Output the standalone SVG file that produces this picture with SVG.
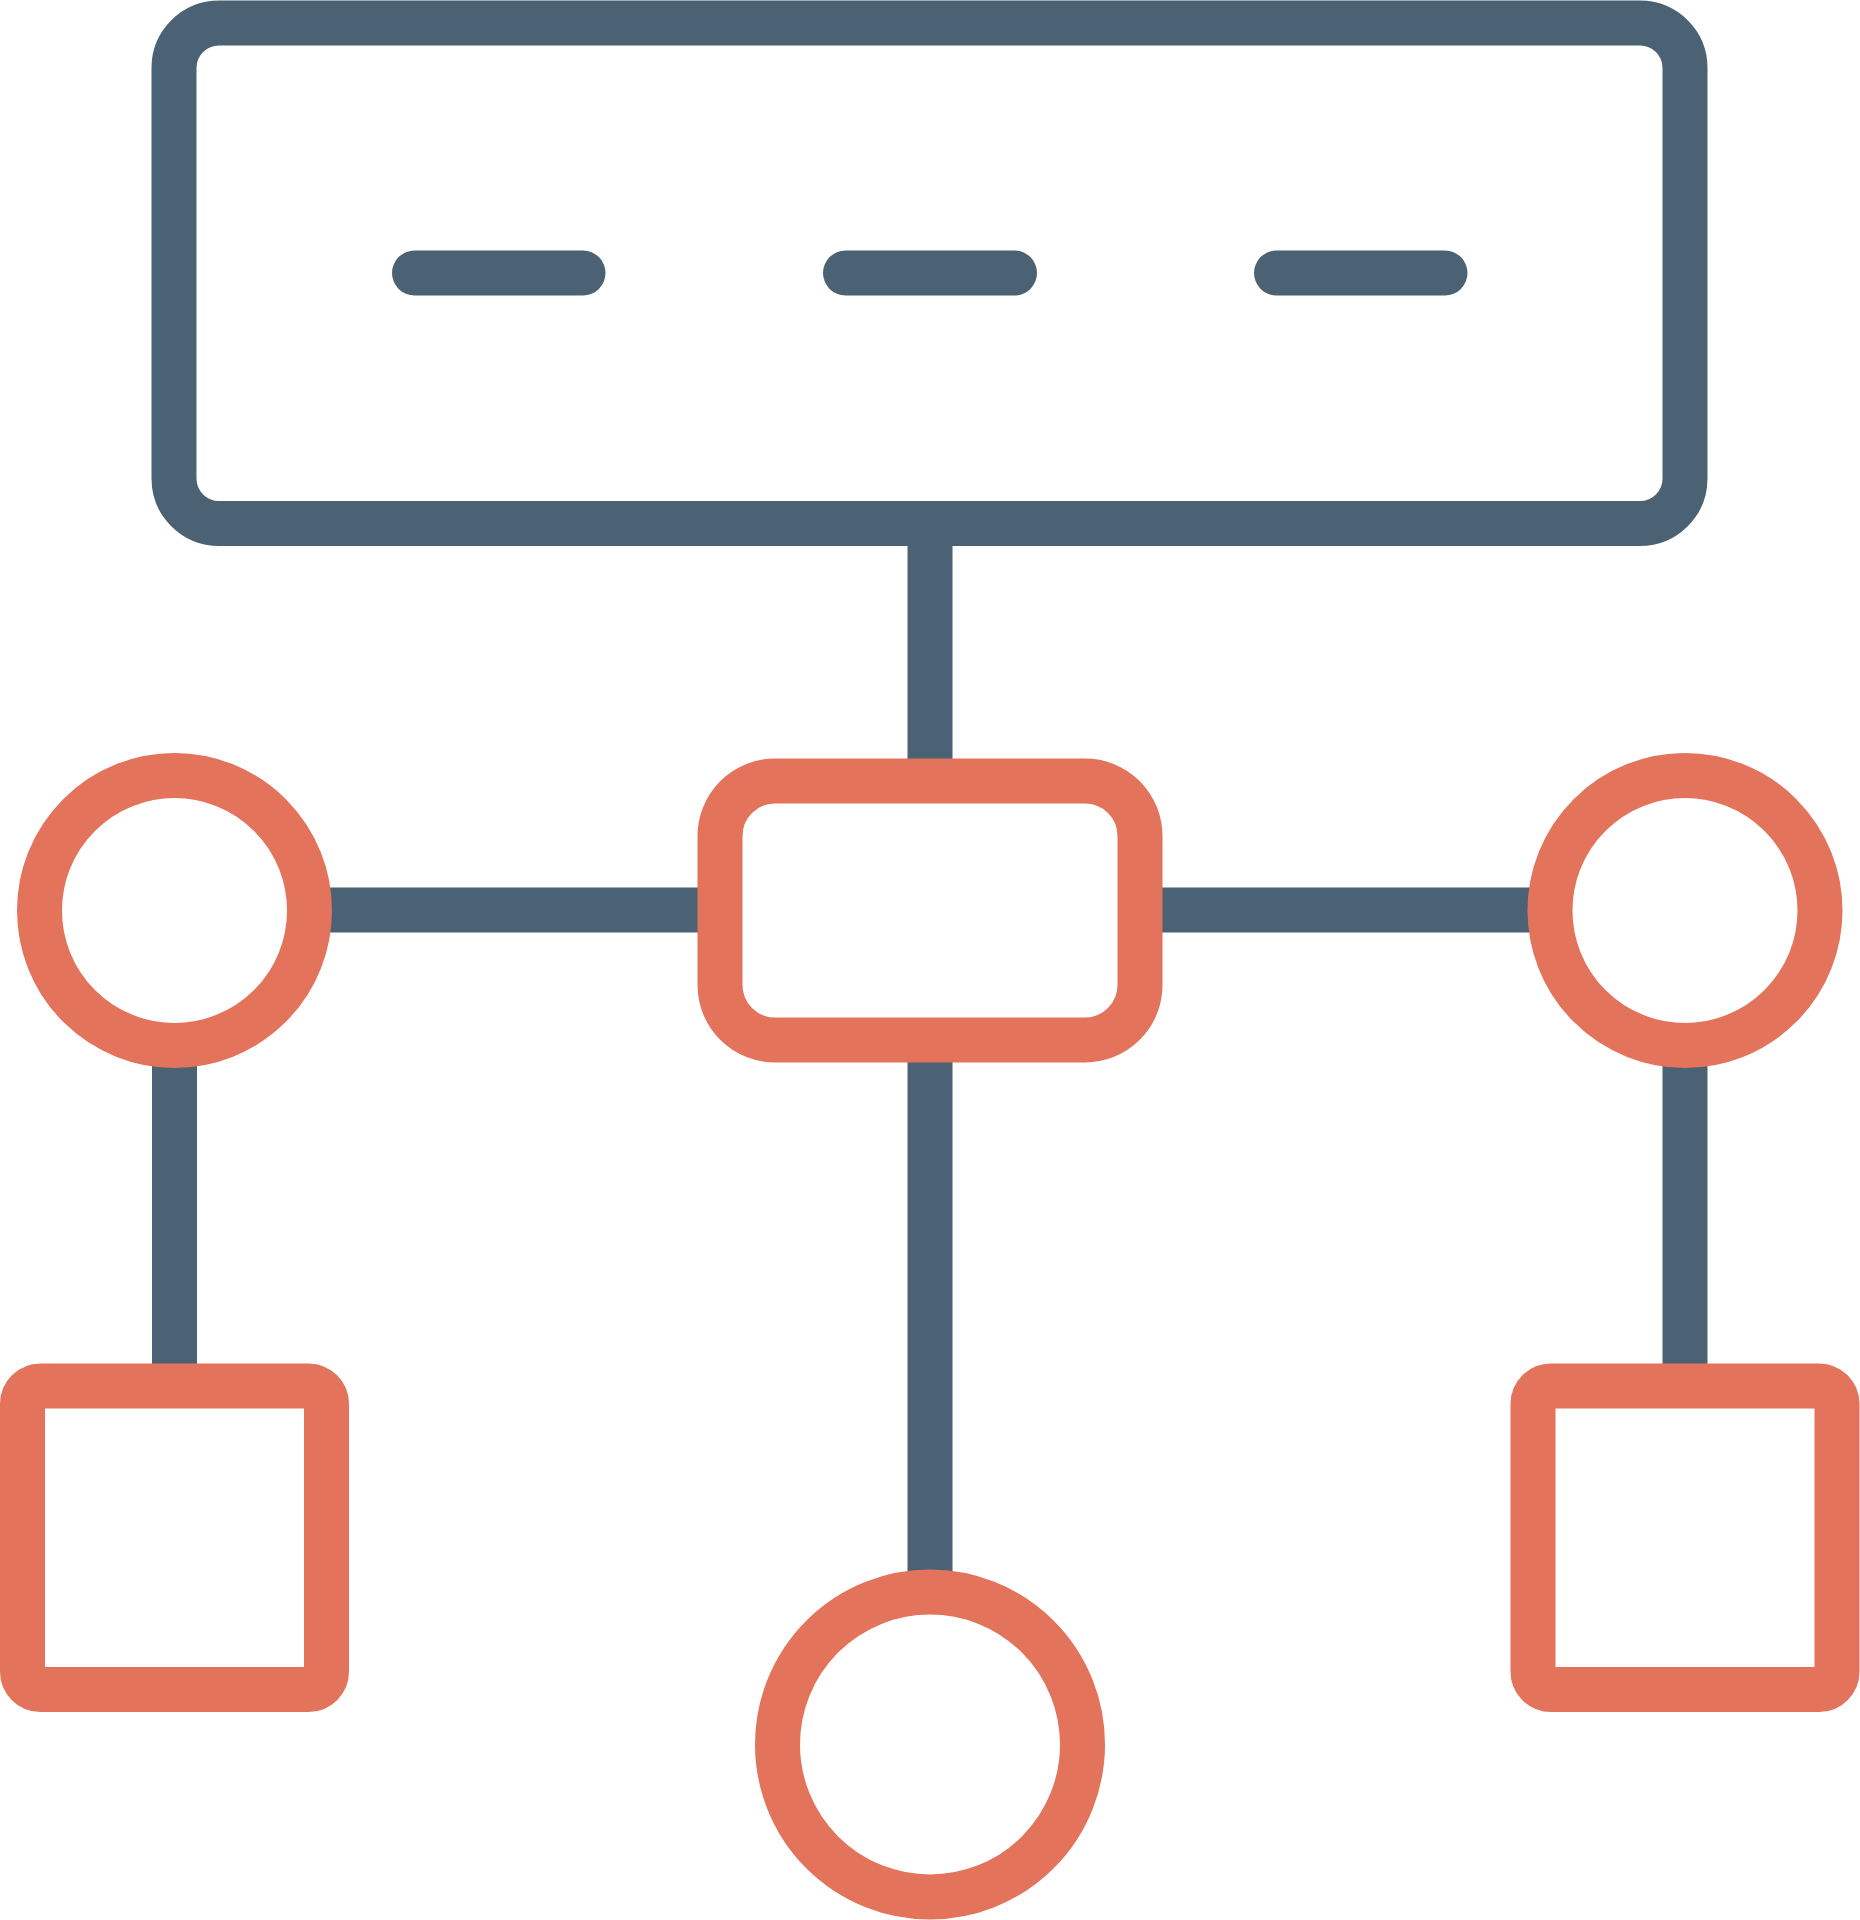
<svg xmlns="http://www.w3.org/2000/svg" width="1860" height="1920" viewBox="0 0 1860 1920">
<style>
.d{fill:none;stroke:#4B6275;stroke-width:45}
.o{fill:none;stroke:#E3735B;stroke-width:45}
.cap{stroke-linecap:round}
</style>
<rect width="1860" height="1920" fill="#ffffff"/>
<g id="connectors">
<line class="d" x1="930" y1="523" x2="930" y2="781"/>
<line class="d" x1="300" y1="910" x2="720" y2="910"/>
<line class="d" x1="1140" y1="910" x2="1560" y2="910"/>
<line class="d" x1="930" y1="1040" x2="930" y2="1600"/>
<line class="d" x1="174.5" y1="1040" x2="174.5" y2="1386"/>
<line class="d" x1="1685" y1="1040" x2="1685" y2="1386"/>
</g>
<g id="top">
<rect class="d" x="174" y="23" width="1511" height="500.5" rx="45"/>
<line class="d cap" x1="414.5" y1="273" x2="583" y2="273"/>
<line class="d cap" x1="845.5" y1="273" x2="1014.5" y2="273"/>
<line class="d cap" x1="1276.5" y1="273" x2="1445" y2="273"/>
</g>
<g id="center"><rect class="o" x="720" y="781" width="420" height="259" rx="55" fill="#fff"/></g>
<g id="leftCircle"><circle class="o" cx="174.5" cy="910.5" r="135"/></g>
<g id="rightCircle"><circle class="o" cx="1685" cy="910.5" r="135"/></g>
<g id="leftSquare"><rect class="o" x="22.5" y="1386" width="304" height="303.5" rx="18"/></g>
<g id="rightSquare"><rect class="o" x="1533" y="1386" width="304" height="303.5" rx="18"/></g>
<g id="bottomCircle"><circle class="o" cx="930" cy="1744.5" r="152.5"/></g>
</svg>
